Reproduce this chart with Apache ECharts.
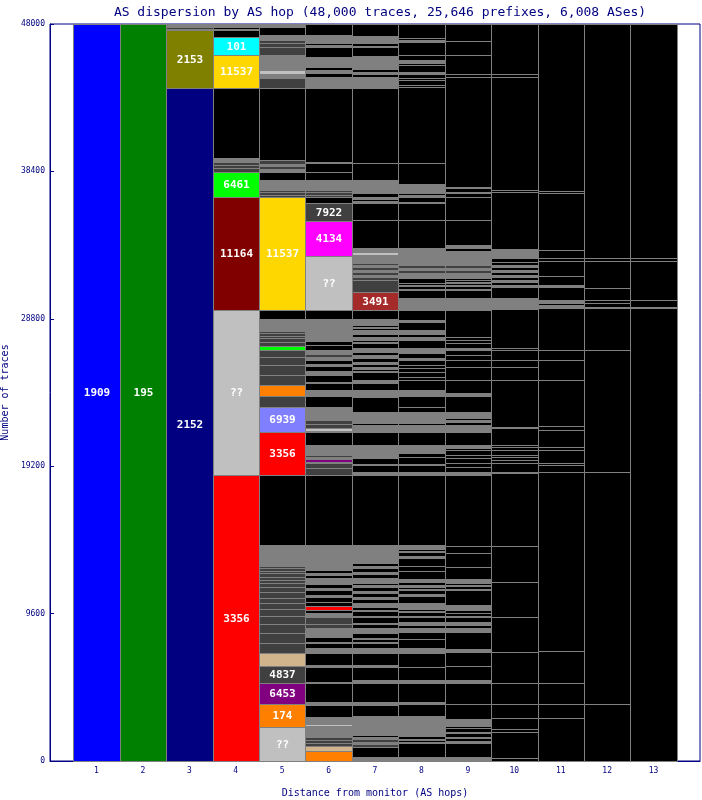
<!DOCTYPE html>
<html><head><meta charset="utf-8">
<script src="https://cdn.jsdelivr.net/npm/echarts@6/dist/echarts.min.js"></script>
<style>html,body{margin:0;padding:0;background:#fff}#c{width:702px;height:800px}</style>
</head><body><div id="c"></div>
<script>
// Hop numbers (x categories)
const hops = [1,2,3,4,5,6,7,8,9,10,11,12,13];
const yTicks = [0, 9600, 19200, 28800, 38400, 48000];
// Each column: segments bottom-up, [cumulative top (traces), colour key, label]
const hop1 = [[48000,'B','1909']];
const hop2 = [[48000,'GR','195']];
const hop3 = [[43830,'N','2152'],[47610,'OL','2153'],[47675,'G'],[47825,'D'],[48000,'G']];
const hop4 = [[18630,'R','3356'],[29400,'S','??'],[36710,'MR','11164'],[38390,'L','6461'],[38600,'D'],[38820,'D'],[39040,'D'],[39270,'G'],[43830,'K'],[45960,'Y','11537'],[47170,'C','101'],[47610,'K'],[47680,'G'],[47830,'K'],[48000,'G']];
const hop5 = [[2230,'S','??'],[3690,'O','174'],[5060,'P','6453'],[6190,'D','4837'],[7010,'T'],
 [7705,'D'],[8317,'D'],[8903,'D'],[9444,'D'],[9900,'D'],[10271,'D'],[10636,'D'],[11027,'D'],[11352,'D'],[11574,'D'],[11789,'D'],[12003,'D'],[12225,'D'],[12394,'D'],[12551,'D'],[12720,'D'],
 [14070,'G'],[18630,'K'],[21450,'R','3356'],[23040,'V','6939'],[23770,'D'],[24490,'O'],[25140,'D'],[25790,'D'],[26290,'D'],[26770,'D'],[27050,'L'],[27310,'D'],[27530,'D'],[27680,'D'],[27855,'D'],[28025,'D'],[28790,'G'],[29400,'K'],
 [36710,'Y','11537'],[36877,'D'],[37039,'D'],[37189,'D'],[37841,'G'],[38390,'K'],[38540,'G'],[38740,'D'],[38880,'G'],[39140,'D'],[43830,'K'],[44464,'D'],[44725,'G'],[45005,'S'],[45982,'G'],[46522,'D'],[46744,'D'],[46959,'D'],[47284,'G'],[47825,'K'],[48000,'G']];
const hop6 = [[670,'O'],[980,'T'],[1170,'D'],[1370,'D'],[1580,'D'],[2300,'G'],[2410,'S'],[2885,'G'],[3650,'K'],[3820,'G'],[5060,'K'],[5165,'S'],[6140,'K'],[6250,'G'],[7015,'K'],[7100,'S'],[7360,'G'],[7690,'K'],[7780,'G'],[8100,'K'],[8660,'G'],[8920,'D'],[9380,'D'],[9640,'G'],[9835,'K'],[10095,'R'],[10375,'K'],[10680,'K'],[10810,'G'],[11140,'K'],[11270,'G'],[11530,'K'],[11920,'G'],[12110,'K'],[12245,'G'],[12440,'K'],[12540,'G'],[12655,'K'],[14070,'G'],
 [18630,'K'],[19060,'D'],[19410,'D'],[19495,'D'],[19670,'P'],[19800,'G'],[19900,'D'],[20040,'G'],[20580,'G'],[21450,'K'],[21495,'G'],[21710,'S'],[21950,'D'],[22210,'D'],[23040,'G'],[23770,'K'],[23840,'S'],[24160,'G'],[24620,'K'],[24685,'G'],[25140,'K'],[25400,'G'],[25730,'K'],[25860,'G'],[26120,'K'],[26310,'G'],[26510,'D'],[26770,'G'],[27090,'K'],[27355,'K'],[27420,'S'],[27860,'G'],[27910,'K'],[28790,'G'],[29400,'K'],
 [32890,'S','??'],[35190,'M','4134'],[36320,'D','7922'],[36714,'K'],[36864,'D'],[37027,'D'],[37189,'D'],[37841,'G'],[38390,'K'],[38930,'K'],[39030,'G'],[43830,'K'],[44030,'G'],[44570,'G'],[44810,'K'],[45005,'G'],[45200,'K'],[45870,'G'],[46500,'K'],[46610,'G'],[46780,'K'],[47285,'G'],[48000,'K']];
const hop7 = [[260,'G'],[910,'K'],[1100,'D'],[1230,'G'],[1430,'D'],[1560,'G'],[1690,'K'],[2930,'G'],[3650,'K'],[3860,'G'],[5060,'K'],[5275,'G'],[6140,'K'],[6250,'G'],[7035,'K'],[7360,'G'],[7685,'K'],[7750,'G'],[7945,'K'],[8010,'G'],[8335,'K'],[8660,'G'],[8920,'K'],[9005,'S'],[9380,'K'],[9440,'G'],[9770,'K'],[9835,'G'],[10050,'K'],[10290,'G'],[10550,'K'],[10680,'G'],[10940,'K'],[11070,'G'],[11330,'K'],[11460,'G'],[11590,'K'],[11920,'G'],[12180,'K'],[12310,'G'],[12570,'K'],[12700,'G'],[12875,'K'],[14070,'G'],
 [18630,'K'],[18840,'G'],[19280,'K'],[19345,'G'],[19715,'K'],[20580,'G'],[21450,'K'],[21885,'G'],[21995,'K'],[22750,'G'],[23725,'K'],[24160,'G'],[24600,'K'],[24815,'G'],[25355,'K'],[25420,'G'],[25550,'K'],[25660,'G'],[25855,'K'],[26005,'G'],[26225,'K'],[26445,'G'],[26660,'K'],[26880,'G'],[27200,'K'],[27265,'G'],[27420,'K'],[27550,'G'],[27610,'K'],[27635,'G'],[27790,'K'],[28070,'G'],[28200,'K'],[28265,'G'],[28400,'K'],[28770,'G'],[29400,'K'],
 [30565,'BR','3491'],[31330,'D'],[31550,'D'],[31650,'G'],[31870,'D'],[31970,'G'],[32190,'D'],[32290,'G'],[32415,'D'],[32955,'G'],[33170,'S'],[33430,'G'],[35235,'K'],[36360,'K'],[36490,'G'],[36620,'K'],[36750,'G'],[37010,'K'],[37840,'G'],[38930,'K'],[43815,'K'],[43960,'G'],[44020,'K'],[44530,'G'],[44745,'K'],[44875,'G'],[45070,'K'],[45915,'G'],[46485,'K'],[46570,'G'],[46785,'K'],[47240,'G'],[48000,'K']];
const hop8 = [[260,'G'],[1150,'K'],[1260,'G'],[1390,'K'],[1450,'G'],[1600,'K'],[2930,'G'],[3740,'K'],[3860,'G'],[5060,'K'],[5275,'G'],[6140,'K'],[7015,'K'],[7340,'G'],[7925,'K'],[8420,'K'],[8640,'G'],[8860,'K'],[9075,'G'],[9400,'K'],[9465,'G'],[9725,'K'],[9790,'G'],[9880,'K'],[10270,'G'],[10745,'K'],[10875,'G'],[11135,'K'],[11200,'G'],[11330,'K'],[11465,'G'],[11675,'K'],[11835,'G'],[12390,'K'],[12700,'K'],[13200,'K'],[13350,'G'],[13630,'K'],[13700,'G'],[13810,'K'],[13870,'G'],[13960,'K'],[14070,'G'],
 [18630,'K'],[18840,'G'],[19280,'K'],[19345,'G'],[19820,'K'],[20040,'K'],[20580,'G'],[21450,'K'],[21885,'G'],[21995,'K'],[22750,'G'],[23075,'K'],[23770,'K'],[24160,'G'],[24815,'K'],[25030,'K'],[25355,'K'],[25570,'K'],[25790,'K'],[26120,'K'],[26225,'G'],[26555,'K'],[26880,'G'],[27420,'K'],[27635,'G'],[27790,'K'],[28070,'G'],[28610,'K'],[28720,'G'],[29375,'K'],
 [29485,'G'],[29590,'S'],[30175,'G'],[30675,'K'],[30740,'G'],[30935,'K'],[31000,'G'],[31130,'K'],[31440,'K'],[31765,'G'],[31960,'D'],[32090,'G'],[32290,'D'],[32420,'G'],[32520,'D'],[33430,'G'],[35235,'K'],[36360,'K'],[36430,'K'],[36750,'K'],[36865,'G'],[36975,'K'],[37405,'G'],[37470,'K'],[37580,'G'],[38930,'K'],[43920,'K'],[44030,'K'],[44355,'K'],[44465,'K'],[44745,'K'],[44895,'G'],[45330,'K'],[45440,'K'],[45660,'G'],[45980,'K'],[46850,'K'],[46960,'G'],[47070,'K'],[48000,'K']];
const hop9 = [[260,'G'],[1150,'K'],[1280,'G'],[1500,'K'],[1570,'G'],[1830,'K'],[1890,'G'],[2130,'K'],[2280,'K'],[2715,'G'],[3695,'K'],[5060,'K'],[5275,'G'],[6190,'K'],[7120,'K'],[7275,'G'],[8420,'K'],[8640,'G'],[8860,'K'],[9075,'G'],[9400,'K'],[9465,'G'],[9620,'K'],[9835,'K'],[10160,'G'],[11140,'K'],[11200,'G'],[11400,'K'],[11465,'G'],[11575,'K'],[11680,'K'],[11835,'G'],[12655,'K'],[13530,'K'],[14000,'K'],
 [18630,'K'],[18840,'G'],[19165,'K'],[19390,'K'],[19715,'K'],[19930,'K'],[20255,'K'],[20365,'K'],[20580,'G'],[21450,'K'],[21885,'G'],[22100,'K'],[22210,'G'],[22320,'K'],[22750,'G'],[23770,'K'],[23945,'G'],[24815,'K'],[25680,'K'],[26120,'K'],[26445,'K'],[26770,'K'],[26880,'G'],[27205,'K'],[27420,'K'],[27635,'K'],[29375,'K'],
 [30175,'G'],[30675,'K'],[30740,'G'],[30935,'K'],[31000,'G'],[31130,'K'],[31200,'G'],[31330,'K'],[31440,'K'],[31765,'G'],[31960,'D'],[32090,'G'],[32290,'D'],[32420,'G'],[32520,'D'],[32585,'K'],[33215,'G'],[33410,'K'],[33625,'G'],[35235,'K'],[36750,'K'],[36975,'K'],[37080,'K'],[37300,'K'],[37405,'K'],[44530,'K'],[44745,'K'],[45980,'K'],[46915,'K'],[48000,'K']];
const hop10 = [[170,'K'],[1910,'K'],[2065,'K'],[2780,'K'],[3740,'K'],[5060,'K'],[7120,'K'],[9400,'K'],[11680,'K'],[14000,'K'],[18735,'K'],[18840,'K'],[19390,'K'],[19605,'K'],[19820,'K'],[19930,'K'],[20255,'K'],[20470,'K'],[20580,'K'],[21670,'K'],[21775,'K'],[24815,'K'],[25640,'K'],[26120,'K'],[26770,'K'],[26880,'K'],[29420,'K'],
 [30175,'G'],[30890,'K'],[31000,'G'],[31200,'K'],[31330,'G'],[31540,'K'],[31650,'G'],[31860,'K'],[31960,'G'],[32200,'K'],[32325,'G'],[32520,'K'],[32740,'K'],[33325,'G'],[37080,'K'],[37190,'K'],[44530,'K'],[44745,'K'],[48000,'K']];
const hop11 = [[2780,'K'],[3740,'K'],[5060,'K'],[7165,'K'],[18840,'K'],[19280,'K'],[19430,'K'],[20255,'K'],[20470,'K'],[21560,'K'],[21820,'K'],[24815,'K'],[26120,'K'],[26770,'K'],[29485,'K'],[29700,'G'],[29850,'K'],[30025,'G'],[30890,'K'],[31000,'G'],[31590,'K'],[32585,'K'],[32740,'K'],[33265,'K'],[36975,'K'],[37150,'K'],[48000,'K']];
const hop12 = [[3740,'K'],[18840,'K'],[26770,'K'],[29485,'K'],[29590,'G'],[29850,'K'],[30025,'K'],[30785,'K'],[32585,'K'],[32740,'K'],[48000,'K']];
const hop13 = [[29485,'K'],[29590,'G'],[30025,'K'],[32585,'K'],[32740,'K'],[48000,'K']];

const columns = [hop1,hop2,hop3,hop4,hop5,hop6,hop7,hop8,hop9,hop10,hop11,hop12,hop13];
const PALETTE = {B:'#0000ff',GR:'#008000',N:'#000080',OL:'#808000',R:'#ff0000',S:'#c0c0c0',MR:'#800000',L:'#00ff00',
  Y:'#ffd700',C:'#00ffff',O:'#ff8000',P:'#800080',D:'#404040',T:'#d2b48c',V:'#8080ff',M:'#ff00ff',BR:'#a52a2a',G:'#808080',K:'#000000'};

const items = [];
columns.forEach((col, i) => {
  let prev = 0;
  col.forEach(s => { items.push({value:[hops[i], prev, s[0]], key:s[1], label:s[2] || ''}); prev = s[0]; });
});

const NAVY = '#000080';
const MONO = '"DejaVu Sans Mono", "Liberation Mono", monospace';
const chart = echarts.init(document.getElementById('c'), null, {renderer:'canvas'});
chart.setOption({
  animation: false,
  backgroundColor: '#ffffff',
  title: {text:'AS dispersion by AS hop (48,000 traces, 25,646 prefixes, 6,008 ASes)', left:375, top:1, textAlign:'center',
    textStyle:{fontFamily:MONO, fontSize:13, fontWeight:'normal', color:NAVY}},
  grid: {left:50, right:2, top:24, bottom:39, show:true, borderColor:NAVY, borderWidth:1,
    containLabel:false, outerBoundsMode:'none'},
  xAxis: {type:'value', min:0, max:14, interval:1,
    name:'Distance from monitor (AS hops)', nameLocation:'middle', nameGap:27,
    nameTextStyle:{fontFamily:MONO, fontSize:10, color:NAVY},
    axisLine:{lineStyle:{color:NAVY}}, axisTick:{show:false}, splitLine:{show:false},
    axisLabel:{fontFamily:MONO, fontSize:8, color:NAVY, margin:6,
      formatter: v => (hops.indexOf(v) >= 0 ? String(v) : '')}},
  yAxis: {type:'value', min:yTicks[0], max:yTicks[yTicks.length-1], interval:9600,
    name:'Number of traces', nameLocation:'middle', nameGap:37, nameRotate:90,
    nameTextStyle:{fontFamily:MONO, fontSize:10, color:NAVY},
    axisLine:{show:true, lineStyle:{color:NAVY}}, axisTick:{show:true, inside:true, length:4, lineStyle:{color:NAVY}},
    splitLine:{show:false},
    axisLabel:{fontFamily:MONO, fontSize:8, color:NAVY, margin:5, formatter: v => String(v)}},
  series: [{
    type:'custom',
    encode:{x:0, y:[1,2]},
    data: items.map(d => d.value),
    renderItem: function(params, api) {
      const h = api.value(0), b = api.value(1), t = api.value(2);
      const pA = api.coord([h - 0.5, t]);
      const pB = api.coord([h + 0.5, b]);
      const x0 = Math.round(pA[0]), x1 = Math.round(pB[0]);
      const y0 = Math.round(pA[1]), y1 = Math.round(pB[1]);
      const it = items[params.dataIndex];
      const children = [{type:'rect', shape:{x:x0 + 0.5, y:y0 + 0.5, width:x1 - x0, height:Math.max(y1 - y0, 0)},
        style:{fill:PALETTE[it.key], stroke:'#808080', lineWidth:1}}];
      if (it.label) {
        children.push({type:'text', x:(x0 + x1) / 2 + 0.5, y:(y0 + y1) / 2 + 1,
          style:{text:it.label, align:'center', verticalAlign:'middle', fill:'#ffffff',
            font:'bold 11px ' + MONO}});
      }
      return {type:'group', children:children};
    }
  }]
});
</script>
</body></html>
